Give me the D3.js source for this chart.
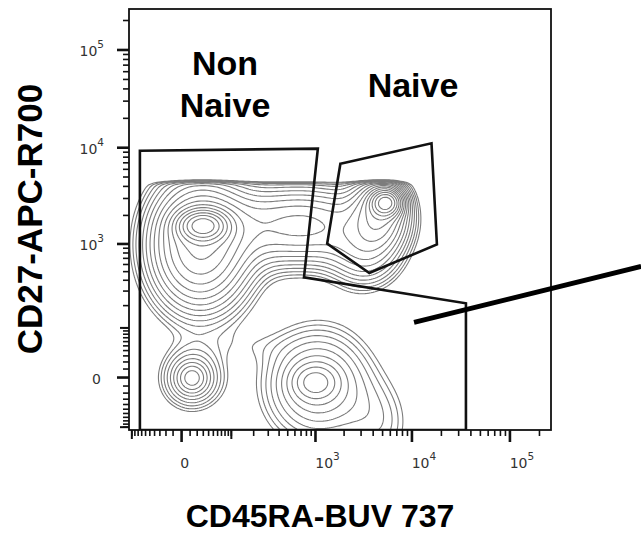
<!DOCTYPE html>
<html>
<head>
<meta charset="utf-8">
<script src="https://cdn.jsdelivr.net/npm/d3@7"></script>
<style>
  body { margin: 0; background: #fff; }
  svg { display: block; }
</style>
</head>
<body>
<svg id="chart" width="641" height="533"></svg>
<script>
// CD45RA vs CD27 contour plot with Naive / Non-Naive gates.

// Cell populations (Gaussian density components). Centres in fluorescence
// units, spreads in decades of the biexponential axis, relative weights.
const populations     = ["Memory core", "Memory body", "Transitional band",
                         "Naive core", "Naive body", "Naive tail",
                         "DN core", "DN body",
                         "Effector core", "Effector body", "Effector tail", "Effector shoulder"];
const popCD45RA       = [29.5, 24.4, 681, 5420, 4700, 3300, 12.5, 12.5, 988, 1064, 4700, 155];
const popCD27         = [1568, 964, 1568, 2721, 2143, 770, -0.6, -0.6, -5.2, -8.8, -93, 51];
const popSpreadCD45RA = [0.143, 0.306, 0.510, 0.092, 0.174, 0.225, 0.092, 0.204, 0.143, 0.347, 0.225, 0.286];
const popSpreadCD27   = [0.092, 0.400, 0.255, 0.082, 0.225, 0.225, 0.092, 0.204, 0.112, 0.367, 0.306, 0.122];
const popWeight       = [30, 15, 8, 25, 10, 4, 3, 4, 4, 5, 1.5, 0.45];
const cd27Ceiling     = 4500;   // detector saturation on CD27

// Gates (vertex lists, fluorescence units)
const nonNaiveGateCD45RA = [-75, 1060, 753, 35600, 35600, -75];
const nonNaiveGateCD27   = [9300, 9800, 431, 214, -110, -110];
const naiveGateCD45RA    = [1830, 15850, 18000, 3650, 1330];
const naiveGateCD27      = [6860, 11100, 990, 482, 1010];

// Pointer to the CD27- region
const pointerCD45RA = [10500, 2.17e6];
const pointerCD27   = [120, 570];

// Axes
const axisMin = -110, axisMax = 262144;
const majorTicks     = [0, 1e3, 1e4, 1e5];
const majorExponents = [null, "3", "4", "5"];
const minorTicks = [].concat(
  d3.range(-100, 0, 10),
  d3.range(10, 100, 10),
  d3.range(100, 1000, 100),
  d3.range(2000, 10000, 1000),
  d3.range(20000, 100000, 10000),
  [200000]
);
const mediumTicks = [-100, 100];

const svg = d3.select("#chart");
const plot = { left: 129, top: 9, right: 551, bottom: 430 };

const x = d3.scaleSymlog().constant(45.2).domain([axisMin, axisMax]).range([plot.left, plot.right]);
const y = d3.scaleSymlog().constant(45.2).domain([axisMin, axisMax]).range([plot.bottom, plot.top]);

// ---- density grid in screen space ----
const pxPerDecade = x(1e5) - x(1e4);
const comps = populations.map((name, i) => ({
  cx: x(popCD45RA[i]), cy: y(popCD27[i]),
  sx: popSpreadCD45RA[i] * pxPerDecade, sy: popSpreadCD27[i] * pxPerDecade,
  w: popWeight[i]
}));
const step = 2, pad = 24;
const gx0 = plot.left - pad, gy0 = plot.top - pad;
const nx = Math.ceil((plot.right - plot.left + 2 * pad) / step) + 1;
const ny = Math.ceil((plot.bottom - plot.top + 2 * pad) / step) + 1;
const ceilPx = y(cd27Ceiling);
const grid = new Float64Array(nx * ny);
for (let j = 0; j < ny; j++) {
  const py = gy0 + j * step;
  const cap = 1 / (1 + Math.exp((ceilPx - py) / 1.3));
  for (let i = 0; i < nx; i++) {
    const px = gx0 + i * step;
    let s = 0;
    for (const c of comps) {
      const dx = (px - c.cx) / c.sx, dy = (py - c.cy) / c.sy;
      s += c.w * Math.exp(-0.5 * (dx * dx + dy * dy));
    }
    grid[j * nx + i] = s * cap;
  }
}
const levels = d3.range(0, 34).map(k => Math.pow(1.25, k));
const contours = d3.contours().size([nx, ny]).thresholds(levels)(grid);
const toScreen = d3.geoTransform({
  point(gx, gy) { this.stream.point(gx0 + (gx - 0.5) * step, gy0 + (gy - 0.5) * step); }
});
const contourPath = d3.geoPath(toScreen);

svg.append("clipPath").attr("id", "plotClip")
  .append("rect")
  .attr("x", plot.left).attr("y", plot.top)
  .attr("width", plot.right - plot.left).attr("height", plot.bottom - plot.top);

svg.append("g").attr("clip-path", "url(#plotClip)")
  .selectAll("path").data(contours).join("path")
  .attr("d", contourPath)
  .attr("fill", "none")
  .attr("stroke", "#7c7c7c")
  .attr("stroke-width", 1.1);

// ---- gates ----
const gateLine = d3.line().x(d => x(d[0])).y(d => y(d[1]));
const nonNaiveGate = d3.zip(nonNaiveGateCD45RA, nonNaiveGateCD27);
const naiveGate = d3.zip(naiveGateCD45RA, naiveGateCD27);
const gates = svg.append("g").attr("clip-path", "url(#plotClip)");
[nonNaiveGate, naiveGate].forEach(g => {
  gates.append("path")
    .attr("d", gateLine(g) + "Z")
    .attr("fill", "none")
    .attr("stroke", "#111")
    .attr("stroke-width", 2.6)
    .attr("stroke-linejoin", "miter");
});

// ---- frame ----
svg.append("rect")
  .attr("x", plot.left).attr("y", plot.top)
  .attr("width", plot.right - plot.left).attr("height", plot.bottom - plot.top)
  .attr("fill", "none").attr("stroke", "#111").attr("stroke-width", 1.8);

// ---- ticks ----
const tickColor = "#111";
const tk = svg.append("g");
function xTick(v, len, w) {
  tk.append("line").attr("x1", x(v)).attr("x2", x(v))
    .attr("y1", plot.bottom).attr("y2", plot.bottom + len)
    .attr("stroke", tickColor).attr("stroke-width", w);
}
function yTick(v, len, w) {
  tk.append("line").attr("y1", y(v)).attr("y2", y(v))
    .attr("x1", plot.left).attr("x2", plot.left - len)
    .attr("stroke", tickColor).attr("stroke-width", w);
}
minorTicks.forEach(v => { xTick(v, 6, 1.6); yTick(v, 6, 1.6); });
mediumTicks.forEach(v => { xTick(v, 9, 2); yTick(v, 9, 2); });
majorTicks.forEach(v => { xTick(v, 12, 2.6); yTick(v, 12, 2.6); });

// tick labels
const tickFont = "'DejaVu Sans', Verdana, sans-serif";
majorTicks.forEach((v, i) => {
  const tx = svg.append("text")
    .attr("x", x(v) + (majorExponents[i] ? 12 : 3))
    .attr("y", plot.bottom + 38)
    .attr("text-anchor", "middle")
    .attr("font-family", tickFont).attr("font-size", 14).attr("fill", "#333");
  const ty = svg.append("text")
    .attr("x", majorExponents[i] ? 104 : 101)
    .attr("y", y(v) + 6)
    .attr("text-anchor", "end")
    .attr("font-family", tickFont).attr("font-size", 14).attr("fill", "#333");
  [tx, ty].forEach(t => {
    if (majorExponents[i]) {
      t.append("tspan").text("10");
      t.append("tspan").attr("dy", -8).attr("font-size", 10.5).text(majorExponents[i]);
    } else {
      t.text("0");
    }
  });
});

// ---- axis titles ----
const titleFont = "'Liberation Sans', Arial, Helvetica, sans-serif";
svg.append("text")
  .attr("x", 320).attr("y", 527)
  .attr("text-anchor", "middle")
  .attr("font-family", titleFont).attr("font-weight", "bold").attr("font-size", 32)
  .attr("fill", "#000")
  .text("CD45RA-BUV 737");
svg.append("text")
  .attr("transform", "translate(42,219) rotate(-90)")
  .attr("text-anchor", "middle")
  .attr("font-family", titleFont).attr("font-weight", "bold").attr("font-size", 35)
  .attr("fill", "#000")
  .text("CD27-APC-R700");

// ---- gate labels ----
const label = (tx, ty, s) => svg.append("text")
  .attr("x", tx).attr("y", ty).attr("text-anchor", "middle")
  .attr("font-family", titleFont).attr("font-weight", "bold").attr("font-size", 34)
  .attr("fill", "#000").text(s);
label(225, 75, "Non");
label(225, 117, "Naive");
label(413, 97, "Naive");

// ---- pointer line ----
svg.append("line")
  .attr("x1", x(pointerCD45RA[0])).attr("y1", y(pointerCD27[0]))
  .attr("x2", x(pointerCD45RA[1])).attr("y2", y(pointerCD27[1]))
  .attr("stroke", "#000").attr("stroke-width", 5);
</script>
</body>
</html>
